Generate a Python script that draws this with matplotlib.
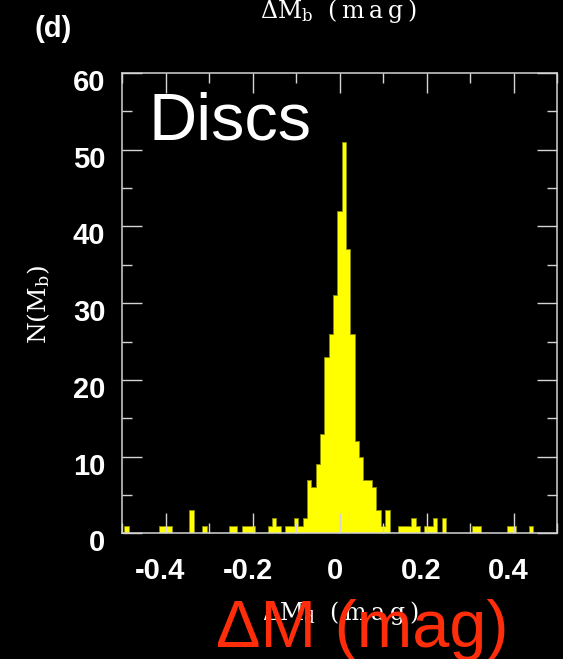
import numpy as np
import matplotlib
matplotlib.use('Agg')
import matplotlib.pyplot as plt
from matplotlib.ticker import MultipleLocator
from matplotlib.transforms import ScaledTranslation

# ---------------- histogram data (0.01 mag bins, filled bins only)
bin_centres = [-0.49, -0.41, -0.40, -0.39, -0.34, -0.31, -0.25, -0.24, -0.22, -0.21, -0.20,
               -0.16, -0.15, -0.14, -0.12, -0.11, -0.10, -0.09, -0.08, -0.07, -0.06, -0.05,
               -0.04, -0.03, -0.02, -0.01, 0.00, 0.01, 0.02, 0.03, 0.04, 0.05, 0.06, 0.07,
               0.08, 0.09, 0.10, 0.11, 0.14, 0.15, 0.16, 0.17, 0.18, 0.20, 0.21, 0.22,
               0.24, 0.31, 0.32, 0.39, 0.40, 0.44]
counts = [1, 1, 1, 1, 3, 1, 1, 1, 1, 1, 1,
          1, 2, 1, 1, 1, 2, 1, 2, 7, 6, 9,
          13, 23, 26, 31, 42, 51, 37, 26, 12, 10, 7, 7,
          6, 3, 1, 3, 1, 1, 1, 2, 1, 1, 1, 2,
          2, 1, 1, 1, 1, 1]
bin_edges = np.round(np.arange(-50.5, 51.0, 1.0) * 0.01, 4)

x_ticks = [-0.4, -0.2, 0.0, 0.2, 0.4]
x_tick_labels = ['-0.4', '-0.2', '0', '0.2', '0.4']
y_ticks = [0, 10, 20, 30, 40, 50, 60]
y_tick_labels = ['0', '10', '20', '30', '40', '50', '60']

W, H = 563, 659
def fx(px):
    return px / W
def fy(py):
    return 1 - py / H

fig = plt.figure(figsize=(W / 100, H / 100), dpi=100, facecolor='black')
ax = fig.add_axes([fx(122), fy(533.3), (557 - 122) / W, (533.3 - 73) / H])
ax.set_facecolor('black')

ax.hist(bin_centres, bins=bin_edges, weights=counts, histtype='stepfilled',
        facecolor='#ffff00', edgecolor='#8a8a00', linewidth=0.7)

ax.set_xlim(-0.5, 0.5)
ax.set_ylim(0, 60)
ax.set_xticks(x_ticks, labels=x_tick_labels, fontsize=21, fontweight='bold',
              fontfamily='Liberation Sans')
ax.set_yticks(y_ticks, labels=y_tick_labels, fontsize=21, fontweight='bold',
              fontfamily='Liberation Sans')
ax.xaxis.set_minor_locator(MultipleLocator(0.1))
ax.yaxis.set_minor_locator(MultipleLocator(5))

spine_col = '#d4d4d4'
for s in ax.spines.values():
    s.set_color(spine_col)
    s.set_linewidth(1.1)
ax.tick_params(which='both', direction='in', top=True, right=True,
               color=spine_col, width=1.0, labelcolor='white')
ax.tick_params(which='major', length=14.5)
ax.tick_params(which='minor', length=7.5)
ax.tick_params(axis='x', pad=17)
ax.tick_params(axis='y', pad=12)

# nudge tick labels a little (left for x, down for y)
x_shift = ScaledTranslation(-5 / 100, 0, fig.dpi_scale_trans)
for lbl in ax.get_xticklabels():
    lbl.set_transform(lbl.get_transform() + x_shift)
y_shift = ScaledTranslation(0, -7 / 100, fig.dpi_scale_trans)
for lbl in ax.get_yticklabels():
    lbl.set_transform(lbl.get_transform() + y_shift)

# ---------------- labels
fig.text(fx(35), fy(29), '(d)', color='white', fontsize=21, fontweight='bold',
         fontfamily='Liberation Sans', ha='left', va='center')
fig.text(fx(260), fy(18.3), '$\\Delta$M$_{\\mathrm{b}}$  (\u2009m\u2009a\u2009g\u2009)',
         color='white', fontsize=17, fontfamily='DejaVu Serif', ha='left',
         va='baseline', math_fontfamily='dejavuserif')
fig.text(fx(39), fy(304), r'N(M$_{\mathrm{b}}$)', color='white', fontsize=18,
         fontfamily='DejaVu Serif', rotation=90, ha='center', va='center',
         math_fontfamily='dejavuserif')
fig.text(fx(148), fy(140), 'Discs', color='white', fontsize=48,
         fontfamily='Liberation Sans', ha='left', va='baseline')
fig.text(fx(262), fy(620), '$\\Delta$M$_{\\mathrm{d}}$  (\u2009m\u2009a\u2009g\u2009)',
         color='white', fontsize=17, fontfamily='DejaVu Serif', ha='left',
         va='baseline', math_fontfamily='dejavuserif', zorder=5)
fig.text(fx(216), fy(646.7), '\u0394M (mag)', color='#ff2d0a', fontsize=48,
         fontfamily='Liberation Sans', ha='left', va='baseline', zorder=6)

fig.savefig('out.png', dpi=100, facecolor='black')
